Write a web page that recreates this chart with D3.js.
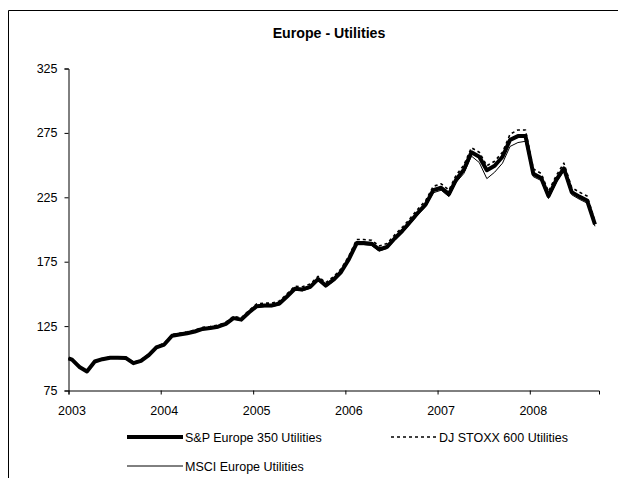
<!DOCTYPE html>
<html>
<head>
<meta charset="utf-8">
<script src="https://cdn.jsdelivr.net/npm/d3@7"></script>
<style>
  html, body { margin: 0; padding: 0; background: #fff; }
  svg { display: block; }
  text { font-family: "Liberation Sans", Arial, sans-serif; fill: #000; }
</style>
</head>
<body>
<script>
// ---- data ----
const title = "Europe - Utilities";
const dates = ["2003-01-01",
  "2003-01-15","2003-02-15","2003-03-15","2003-04-15","2003-05-15","2003-06-15","2003-07-15","2003-08-15","2003-09-15","2003-10-15","2003-11-15","2003-12-15",
  "2004-01-15","2004-02-15","2004-03-15","2004-04-15","2004-05-15","2004-06-15","2004-07-15","2004-08-15","2004-09-15","2004-10-15","2004-11-15","2004-12-15",
  "2005-01-15","2005-02-15","2005-03-15","2005-04-15","2005-05-15","2005-06-15","2005-07-15","2005-08-15","2005-09-15","2005-10-15","2005-11-15","2005-12-15",
  "2006-01-15","2006-02-15","2006-03-15","2006-04-15","2006-05-15","2006-06-15","2006-07-15","2006-08-15","2006-09-15","2006-10-15","2006-11-15","2006-12-15",
  "2007-01-15","2007-02-15","2007-03-15","2007-04-15","2007-05-15","2007-06-15","2007-07-15","2007-08-15","2007-09-15","2007-10-15","2007-11-15","2007-12-15",
  "2008-01-15","2008-02-15","2008-03-15","2008-04-15","2008-05-15","2008-06-15","2008-07-15","2008-08-15","2008-09-15"];
const spEurope350 = [100, 99, 93, 89.8, 97.5, 99.3, 100.4, 100.5, 100.3, 96.2, 98, 102.5, 108.5,
  110.7, 117.5, 118.5, 119.5, 120.8, 122.8, 123.5, 124.5, 126.7, 131.2, 130, 135.5,
  140.5, 141, 141, 142.5, 148, 154, 153.5, 155.5, 161.5, 156.5, 161, 167,
  177, 189.5, 189.5, 189, 184.5, 186.5, 193, 199, 206, 213, 219.5, 230.5,
  232.4, 227.5, 238.6, 246.5, 260, 256.5, 246, 249.5, 256.5, 269.6, 272.5, 272.5,
  243.2, 240, 226, 238.5, 247.5, 229, 225.5, 222.5, 204];
const djStoxx600 = [100, 99.5, 93.5, 90.3, 98, 99.8, 101, 101.1, 101, 96.9, 98.7, 103.3, 109.3,
  111.6, 118.5, 119.5, 120.6, 121.9, 124, 124.7, 125.7, 128, 132.5, 131.4, 137,
  142.2, 142.8, 142.8, 144.4, 150, 156, 155.5, 157.6, 163.6, 158.7, 163.3, 169.4,
  179.5, 192.2, 192.2, 191.7, 187.2, 189.2, 195.8, 201.8, 208.8, 215.8, 222.5, 233.5,
  235.5, 230.6, 242, 250, 263.5, 260, 249.5, 253, 260, 274, 277.3, 277.3,
  247, 243.5, 229.5, 242, 251.5, 232.5, 229, 226, 206.5];
const msciEurope = [100, 98.8, 92.8, 89.5, 97.2, 99, 100, 100.1, 99.9, 95.8, 97.6, 102, 108,
  110.2, 117, 118, 119, 120.3, 122.2, 122.9, 123.9, 126, 130.5, 129.3, 134.7,
  139.6, 140.1, 140.1, 141.5, 147, 153, 152.4, 154.4, 160.4, 155.4, 159.8, 165.8,
  175.8, 188.2, 188.2, 187.6, 183.2, 185.2, 191.6, 197.6, 204.5, 211.4, 217.8, 228.5,
  230.5, 225.5, 236.5, 243.5, 257, 252, 239.5, 244.5, 251.5, 264.5, 267.5, 268.5,
  241, 238, 224, 236.5, 245.5, 227, 223.5, 220.5, 202.5];
const seriesNames = ["S&P Europe 350 Utilities", "DJ STOXX 600 Utilities", "MSCI Europe Utilities"];
const yTicks = [75, 125, 175, 225, 275, 325];
const xTickLabels = ["2003", "2004", "2005", "2006", "2007", "2008"];
const xDomain = ["2003-01-01", "2008-10-01"];

// ---- drawing ----
const W = 618, H = 478;
const parse = d3.timeParse("%Y-%m-%d");
const svg = d3.select("body").append("svg").attr("width", W).attr("height", H);

// outer frame (only top & left edges visible in the reference)
svg.append("path")
  .attr("d", "M8.5,478 V10.5 H618")
  .attr("fill", "none").attr("stroke", "#000").attr("stroke-width", 1);

const x = d3.scaleTime().domain(xDomain.map(parse)).range([68.5, 599]);
const y = d3.scaleLinear().domain([75, 325]).range([390.5, 68.5]);

svg.append("text")
  .attr("x", 329).attr("y", 38)
  .attr("text-anchor", "middle")
  .attr("font-size", 14.2).attr("font-weight", "bold")
  .text(title);

// y axis
const yAxis = svg.append("g").attr("transform", "translate(68.5,0)")
  .call(d3.axisLeft(y).tickValues(yTicks).tickSize(4).tickPadding(7).tickFormat(d3.format("d")));
// x axis
const xAxis = svg.append("g").attr("transform", "translate(0,390.5)")
  .call(d3.axisBottom(x)
    .tickValues(xTickLabels.map(s => parse(s + "-01-01")))
    .tickSize(4).tickPadding(12)
    .tickFormat((d, i) => xTickLabels[i]));
[yAxis, xAxis].forEach(g => {
  g.select(".domain").attr("stroke", "#000");
  g.selectAll(".tick line").attr("stroke", "#000");
  g.selectAll(".tick text").attr("font-size", 12.5).attr("font-family", null);
});
xAxis.selectAll(".tick text").attr("dx", 3);

const line = d3.line().x((d, i) => x(parse(dates[i]))).y(d => y(d));
const styles = [
  { data: spEurope350, width: 4, dash: null },
  { data: djStoxx600, width: 1.6, dash: "3,3" },
  { data: msciEurope, width: 1, dash: null }
];
styles.forEach(s => {
  svg.append("path").datum(s.data)
    .attr("fill", "none").attr("stroke", "#000")
    .attr("stroke-width", s.width)
    .attr("stroke-linejoin", "round")
    .attr("stroke-dasharray", s.dash)
    .attr("d", line);
});

// legend
const legendItems = [
  { name: seriesNames[0], x0: 127, x1: 183, y: 437, st: styles[0] },
  { name: seriesNames[1], x0: 391, x1: 437, y: 437, st: styles[1] },
  { name: seriesNames[2], x0: 127, x1: 183, y: 466, st: styles[2] }
];
legendItems.forEach(it => {
  svg.append("line")
    .attr("x1", it.x0).attr("x2", it.x1).attr("y1", it.y).attr("y2", it.y)
    .attr("stroke", "#000").attr("stroke-width", it.st.width)
    .attr("stroke-dasharray", it.st.dash);
  svg.append("text")
    .attr("x", it.x1 + 2).attr("y", it.y + 4.5)
    .attr("font-size", 12.5)
    .text(it.name);
});
</script>
</body>
</html>
